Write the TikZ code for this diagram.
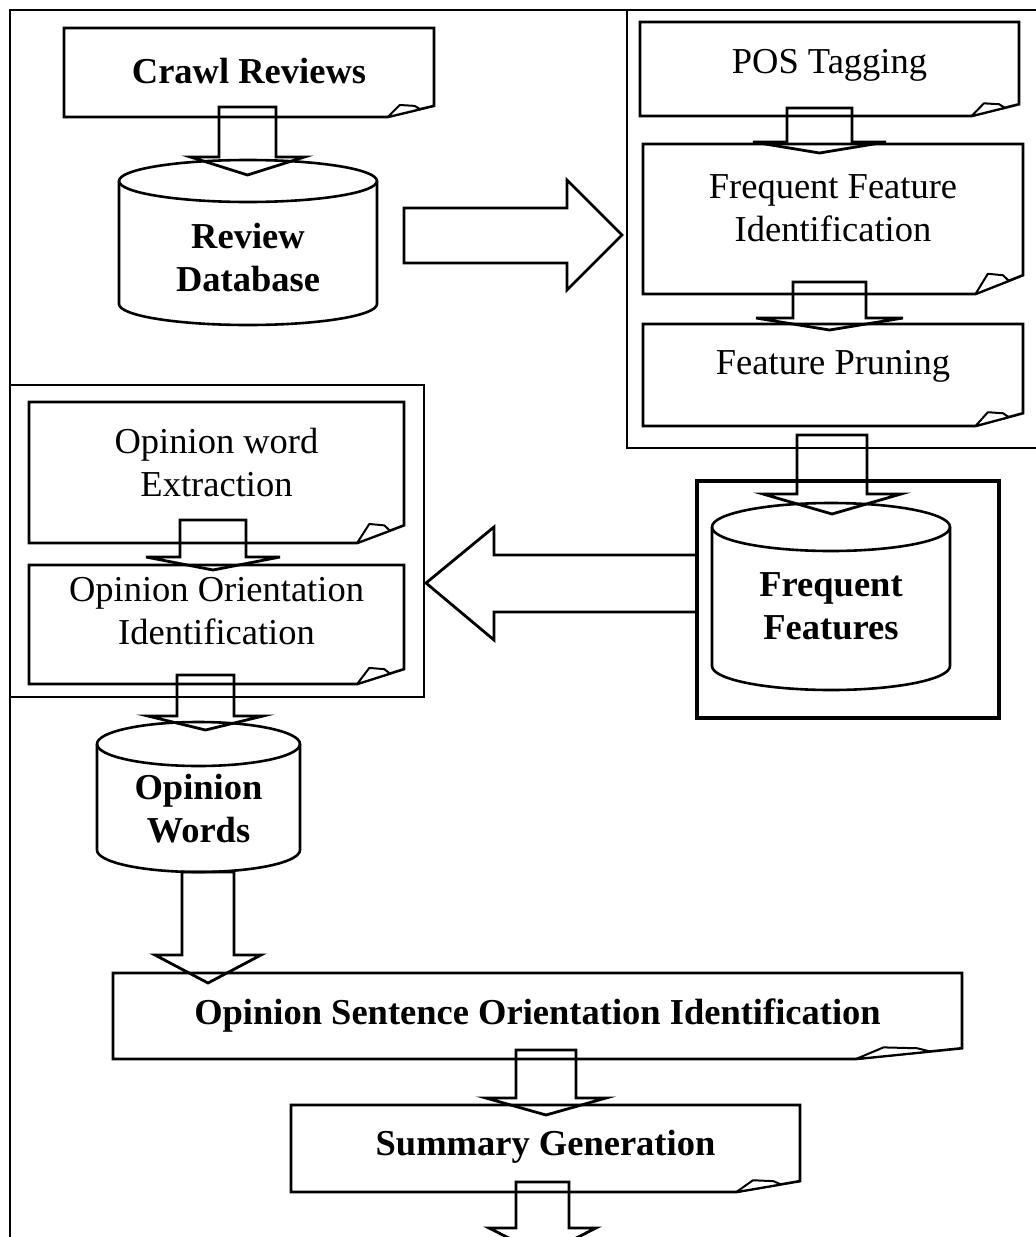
\documentclass[tikz,border=0pt]{standalone}
\usepackage{fontspec}
\setmainfont{Liberation Serif}
\tikzset{
  shapeline/.style={line width=2.6pt, line join=miter, draw=black},
  foldline/.style={line width=2pt, line join=round, draw=black, fill=white},
  frameline/.style={line width=2pt, draw=black},
  blockarrow/.style={line width=2.8pt, line join=miter, draw=black},
  lbl/.style={font=\fontsize{36.5}{43}\selectfont, align=center, inner sep=0pt},
  blbl/.style={font=\fontsize{36.5}{43}\selectfont\bfseries, align=center, inner sep=0pt},
}
% document shape: name, x0, y0, x1, y1, text y, label style, text
\newcommand\docshape[8]{%
  \pgfmathsetmacro\dfw{0.125*(#4-#2)}%
  \pgfmathsetmacro\dfh{0.125*(#5-#3)}%
  \pgfmathsetmacro\dcx{(#2+#4)/2}%
  \draw[shapeline, fill=white] (#2,#3) -- (#4,#3) -- (#4,#5-\dfh) -- (#4-\dfw,#5) -- (#2,#5) -- cycle;
  \draw[foldline] (#4-\dfw,#5) -- (#4-0.74*\dfw,#5-1.08*\dfh) -- (#4-0.42*\dfw,#5-1.0*\dfh) -- (#4-0.3*\dfw,#5-0.7*\dfh) -- cycle;
  \node[#7] (#1) at (\dcx,#6) {#8};
}
% cylinder: name, x0, x1, top cy, bottom cy, ry, text y, text
\newcommand\cylshape[8]{%
  \pgfmathsetmacro\crx{(#3-#2)/2}%
  \pgfmathsetmacro\ccx{(#2+#3)/2}%
  \draw[shapeline, fill=white] (#2,#4) -- (#2,#5)
     arc[start angle=180, end angle=360, x radius={\crx*1pt}, y radius={#6*1pt}]
     -- (#3,#4)
     arc[start angle=0, end angle=180, x radius={\crx*1pt}, y radius={#6*1pt}] -- cycle;
  \draw[shapeline] (#2,#4) arc[start angle=180, end angle=360, x radius={\crx*1pt}, y radius={#6*1pt}];
  \node[blbl] (#1) at (\ccx,#7) {#8};
}
% downward block arrow: name, cx, shaft half width, y top, y head, head half width, y tip
\newcommand\blockdown[7]{%
  \draw[blockarrow] (#2-#3,#4) -- (#2+#3,#4) -- (#2+#3,#5) -- (#2+#6,#5) -- (#2,#7) coordinate (#1) -- (#2-#6,#5) -- (#2-#3,#5) -- cycle;
}
\begin{document}
\begin{tikzpicture}[x=1pt, y=-1pt]
\useasboundingbox (0,0) rectangle (1036,1237);
\fill[white] (0,0) rectangle (1036,1237);

% outer frame and panels
\draw[frameline] (10,1245) -- (10,10) -- (1045,10);
\draw[frameline] (627,10) -- (627,448) -- (1045,448);
\draw[frameline] (10,385) rectangle (424,697);
\draw[line width=3.4pt] (697,481) rectangle (999,718);

% document shapes
\docshape{crawl}{64}{28}{434}{117}{71}{blbl}{Crawl Reviews}
\docshape{pos}{640}{22}{1019}{116}{65}{lbl}{POS Tagging}
\docshape{ffi}{643}{144}{1023}{294}{208}{lbl}{Frequent Feature\\Identification}
\docshape{fp}{643}{324}{1023}{426}{366}{lbl}{Feature Pruning}
\docshape{owe}{29}{402}{404}{543}{463}{lbl}{Opinion word\\Extraction}
\docshape{ooi}{29}{565}{404}{684}{611}{lbl}{Opinion Orientation\\Identification}
\docshape{oso}{113}{973}{962}{1059}{1016}{blbl}{Opinion Sentence Orientation Identification}
\docshape{sg}{291}{1105}{800}{1192}{1147}{blbl}{Summary Generation}

% cylinders
\cylshape{rdb}{119}{377}{181}{304}{21}{258}{Review\\Database}
\cylshape{ff}{712}{950}{527}{666}{24}{606}{Frequent\\Features}
\cylshape{ow}{97}{300}{744}{850}{22}{809}{Opinion\\Words}

% block arrows
\blockdown{a1}{247.5}{28.5}{107}{157}{57}{175}
\blockdown{a2}{819.5}{32.5}{108}{142}{66.5}{153}
\blockdown{a3}{829.5}{36.5}{282}{318}{73.5}{330}
\blockdown{a4}{832}{35}{435}{494}{69}{514}
\blockdown{a5}{213}{33}{520}{557}{67}{570}
\blockdown{a6}{205.5}{28.5}{675}{716}{57.5}{730}
\blockdown{a7}{208}{26}{872}{955}{53}{983}
\blockdown{a8}{546}{30}{1050}{1098}{60}{1115}
\blockdown{a9}{542.5}{26.5}{1182}{1228}{53.5}{1255}

% horizontal block arrows
\draw[blockarrow] (404,208) -- (567,208) -- (567,180) -- (622,235) coordinate (a10) -- (567,290) -- (567,263) -- (404,263) -- cycle;
\draw[blockarrow] (697,555) -- (494,555) -- (494,527) -- (426,583) coordinate (a11) -- (494,640) -- (494,612) -- (697,612);
\end{tikzpicture}
\end{document}
